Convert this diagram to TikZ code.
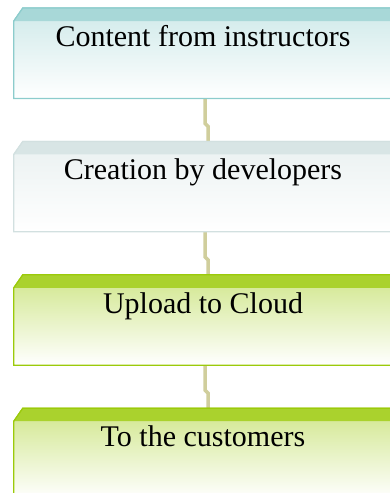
\documentclass[tikz,border=0pt]{standalone}
\usepackage{fontspec}
\setmainfont{Liberation Serif}
\usetikzlibrary{positioning,backgrounds}

\definecolor{tealedge}{RGB}{140,204,204}
\definecolor{tealtop}{RGB}{168,216,216}
\definecolor{greyedge}{RGB}{210,224,224}
\definecolor{greytop}{RGB}{216,229,229}
\definecolor{limeedge}{RGB}{155,202,10}
\definecolor{limetop}{RGB}{170,210,45}
\definecolor{linkcol}{RGB}{208,206,156}

\tikzset{
  stage/.style={minimum width=378pt, inner xsep=0pt, inner ysep=0pt,
    text height=38pt, text depth=52pt, font=\fontsize{30}{36}\selectfont},
  link/.style={draw=linkcol, line width=3.5pt},
}

% box with a bevelled top strip: name, edge colour, strip colour
\newcommand{\bevelbox}[3]{
  \path[top color=#3!55, bottom color=white, draw=#2, line width=1.2pt]
    ([yshift=-13pt]#1.north west) -- ([xshift=9pt]#1.north west)
    -- (#1.north east) -- (#1.south east) -- (#1.south west) -- cycle;
  \fill[#3] ([yshift=-13pt]#1.north west) -- ([xshift=9pt]#1.north west)
    -- (#1.north east) -- ([yshift=-13pt]#1.north east) -- cycle;
  \draw[#2, line width=1.2pt] ([yshift=-13pt]#1.north west) -- ([xshift=9pt]#1.north west)
    -- (#1.north east);
}
% joint between two boxes
\newcommand{\joint}[2]{
  \draw[link] ([xshift=2pt]#1.south) -- ++(0,-25pt) -- ++(3pt,-3pt)
    -- ([xshift=5pt]#2.north);
}

\begin{document}
\begin{tikzpicture}[node distance=43pt]
\useasboundingbox (0,0) rectangle (390pt,-493pt);

\node[stage, anchor=north] (content) at (203pt,-8pt) {Content from instructors};
\node[stage, below=of content] (creation) {Creation by developers};
\node[stage, below=of creation] (upload) {Upload to Cloud};
\node[stage, below=of upload] (customers) {To the customers};

\begin{scope}[on background layer]
\joint{content}{creation}
\joint{creation}{upload}
\joint{upload}{customers}
\bevelbox{content}{tealedge}{tealtop}
\bevelbox{creation}{greyedge}{greytop}
\bevelbox{upload}{limeedge}{limetop}
\bevelbox{customers}{limeedge}{limetop}
\end{scope}
\end{tikzpicture}
\end{document}
